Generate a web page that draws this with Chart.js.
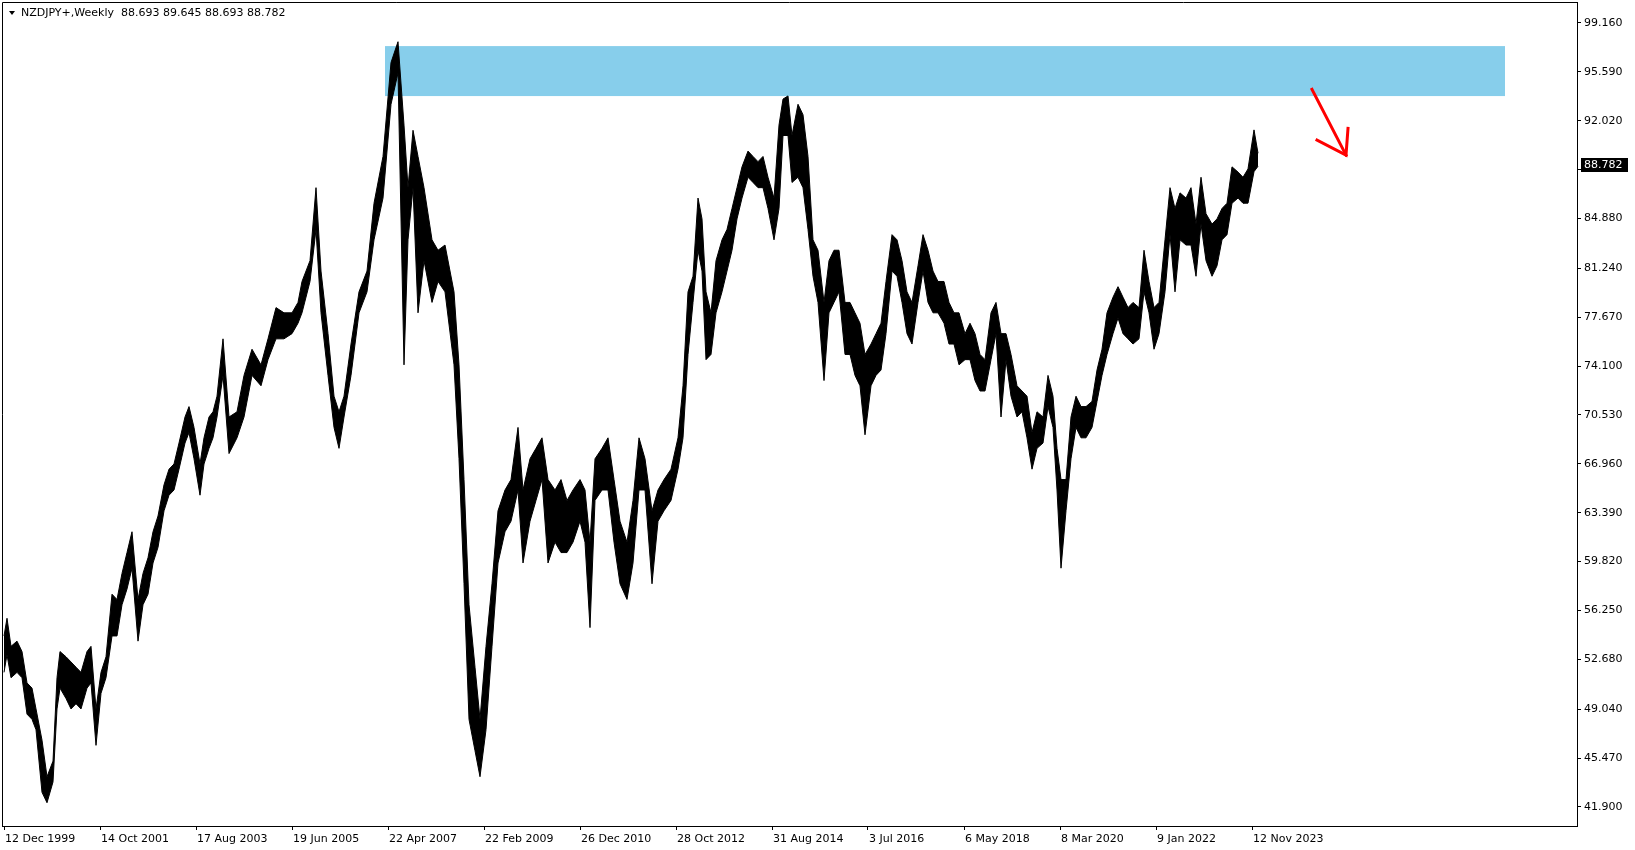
<!DOCTYPE html>
<html>
<head>
<meta charset="utf-8">
<title>NZDJPY+ Weekly</title>
<script src="https://cdn.jsdelivr.net/npm/chart.js@4.4.1/dist/chart.umd.min.js"></script>
<style>
  html, body { margin: 0; padding: 0; background: #fff; }
  #wrap { width: 1635px; height: 850px; }
</style>
</head>
<body>
<div id="wrap"><canvas id="chart" width="1635" height="850"></canvas></div>
<script>
const symbolTitle = 'NZDJPY+,Weekly';
const lastBar = [88.693, 89.645, 88.693, 88.782]; // open high low close

// sample points, weeks counted from 12 Dec 1999
const weekNo = [
  0, 3, 7, 13, 18, 23, 28, 32, 38, 43, 49, 53, 56, 62, 67, 72, 77, 83, 87, 92,
  97, 102, 108, 113, 118, 123, 128, 134, 139, 144, 149, 154, 160, 165, 170, 175, 181, 185, 190, 196,
  200, 205, 209, 213, 219, 225, 233, 240, 248, 257, 264, 272, 280, 288, 294, 298, 306, 312, 317, 324,
  330, 335, 340, 347, 355, 363, 370, 379, 387, 394, 400, 404, 409, 414, 420, 428, 434, 441, 450, 455,
  460, 465, 471, 476, 482, 488, 494, 501, 507, 514, 519, 526, 532, 538, 544, 551, 557, 563, 569, 576,
  581, 586, 591, 598, 604, 610, 616, 623, 629, 635, 641, 648, 654, 660, 667, 674, 679, 684, 689, 694,
  698, 702, 707, 712, 718, 723, 728, 733, 738, 744, 749, 754, 759, 764, 770, 775, 779, 784, 788, 794,
  799, 804, 809, 814, 820, 825, 830, 835, 841, 846, 851, 856, 861, 867, 872, 877, 882, 888, 893, 898,
  903, 908, 914, 919, 924, 929, 934, 940, 945, 950, 955, 961, 966, 971, 976, 981, 987, 992, 997, 1002,
  1007, 1013, 1018, 1023, 1028, 1033, 1039, 1044, 1049, 1053, 1057, 1062, 1067, 1072, 1077, 1082, 1088, 1093, 1098, 1103,
  1109, 1114, 1119, 1124, 1129, 1135, 1140, 1145, 1150, 1155, 1161, 1166, 1171, 1176, 1182, 1187, 1192, 1197, 1202, 1208,
  1213, 1218, 1223, 1228, 1234, 1239, 1244, 1250, 1254
];
const highs = [
  54.39, 55.68, 53.63, 54.01, 53.25, 50.96, 50.58, 49.06, 46.78, 44.11, 45.25, 51.34, 53.25, 52.87, 52.49, 52.11, 51.73, 53.25, 53.63, 49.06,
  51.73, 52.87, 57.44, 57.05, 58.96, 60.48, 62.00, 57.05, 58.96, 60.10, 62.00, 63.15, 65.43, 66.57, 66.95, 68.48, 70.38, 71.14, 69.62, 66.95,
  68.86, 70.38, 70.76, 71.90, 76.09, 70.38, 70.76, 73.42, 75.33, 74.19, 76.09, 78.37, 77.99, 77.99, 78.75, 80.28, 81.80, 87.13, 81.04, 76.47,
  71.90, 70.76, 71.90, 75.71, 79.52, 81.04, 85.99, 89.41, 96.27, 97.79, 91.70, 87.13, 91.32, 89.41, 87.13, 83.32, 82.56, 82.94, 79.52, 74.19,
  65.81, 56.67, 52.11, 48.30, 53.63, 58.20, 63.53, 65.05, 65.81, 69.62, 65.05, 67.33, 68.09, 68.86, 65.81, 65.05, 65.81, 64.29, 65.05, 65.81,
  65.05, 61.24, 67.33, 68.09, 68.86, 65.81, 62.77, 61.24, 64.29, 68.86, 67.33, 63.53, 65.05, 65.81, 66.57, 68.86, 72.66, 79.52, 80.66, 86.37,
  84.85, 79.52, 77.99, 81.80, 83.32, 84.08, 85.61, 87.13, 88.65, 89.80, 89.41, 89.03, 89.41, 87.89, 86.37, 91.70, 93.60, 93.83, 90.94, 93.22,
  92.46, 89.41, 83.32, 82.56, 78.75, 81.80, 82.56, 82.56, 78.75, 78.75, 77.99, 77.23, 74.95, 75.71, 76.47, 77.23, 80.28, 83.70, 83.32, 81.80,
  79.52, 78.75, 81.42, 83.70, 82.56, 81.04, 80.28, 80.28, 78.75, 77.99, 77.99, 76.47, 77.23, 76.47, 74.95, 74.57, 77.99, 78.75, 76.47, 76.47,
  74.95, 72.66, 72.28, 71.90, 69.24, 70.76, 70.38, 73.42, 71.90, 68.09, 65.81, 65.81, 70.38, 71.90, 71.14, 71.14, 71.52, 73.81, 75.33, 77.99,
  79.13, 79.90, 79.13, 78.37, 78.75, 78.37, 82.56, 80.28, 78.37, 78.75, 83.32, 87.13, 85.61, 86.75, 86.37, 87.13, 84.47, 87.89, 85.23, 84.47,
  84.85, 85.61, 85.99, 88.65, 88.27, 87.89, 88.50, 91.35, 89.645
];
const lows = [
  51.73, 53.02, 51.34, 51.73, 51.34, 48.68, 48.30, 47.54, 42.97, 42.21, 43.73, 49.06, 50.58, 49.82, 49.06, 49.44, 49.06, 50.58, 50.96, 46.40,
  50.20, 51.34, 54.39, 54.39, 56.67, 57.82, 59.34, 54.01, 56.67, 57.44, 59.72, 60.86, 63.53, 64.67, 65.05, 66.57, 68.48, 69.24, 67.33, 64.67,
  66.95, 68.09, 68.86, 70.38, 73.42, 67.71, 68.86, 70.38, 73.42, 72.66, 74.57, 76.09, 76.09, 76.47, 77.23, 77.99, 80.28, 84.08, 77.99, 73.42,
  69.62, 68.09, 70.38, 73.42, 77.99, 79.52, 83.32, 86.37, 93.22, 95.51, 74.19, 83.32, 87.13, 77.99, 81.80, 78.75, 80.28, 79.52, 74.19, 67.33,
  58.20, 48.30, 46.01, 44.11, 47.54, 53.63, 59.72, 62.00, 62.77, 65.05, 59.72, 62.77, 64.29, 65.81, 59.72, 61.24, 60.48, 60.48, 61.24, 62.77,
  61.24, 55.00, 64.29, 65.05, 65.05, 61.24, 58.20, 57.06, 59.72, 65.05, 65.05, 58.20, 62.77, 63.53, 64.29, 66.57, 68.86, 74.95, 78.75, 82.56,
  81.04, 74.57, 74.95, 77.99, 79.52, 81.04, 82.56, 84.85, 86.37, 87.89, 87.51, 87.13, 87.13, 85.61, 83.32, 85.61, 90.94, 90.94, 87.51, 87.89,
  87.13, 84.08, 80.66, 78.75, 73.04, 77.99, 78.75, 79.52, 74.95, 74.95, 73.42, 72.66, 69.08, 72.66, 73.42, 73.81, 76.47, 81.04, 80.66, 78.75,
  76.47, 75.71, 78.75, 81.04, 78.75, 77.99, 77.99, 77.23, 75.71, 75.71, 74.19, 74.57, 74.57, 73.04, 72.28, 72.28, 74.57, 76.47, 70.38, 74.57,
  71.90, 70.38, 70.76, 68.86, 66.57, 68.09, 68.48, 71.14, 69.62, 65.05, 59.34, 63.53, 67.33, 69.62, 68.86, 68.86, 69.62, 71.52, 73.42, 74.95,
  76.47, 77.61, 76.47, 76.09, 75.71, 76.09, 79.52, 77.99, 75.33, 76.47, 79.52, 83.70, 79.52, 83.32, 82.94, 82.94, 80.66, 84.47, 81.80, 80.66,
  81.42, 83.32, 83.70, 85.99, 86.37, 85.99, 86.00, 88.30, 88.693
];

const dateTickWeeks = [0, 96, 192, 288, 384, 480, 576, 672, 768, 864, 960, 1056, 1152, 1248];
const dateTickLabels = ['12 Dec 1999', '14 Oct 2001', '17 Aug 2003', '19 Jun 2005', '22 Apr 2007', '22 Feb 2009', '26 Dec 2010',
  '28 Oct 2012', '31 Aug 2014', '3 Jul 2016', '6 May 2018', '8 Mar 2020', '9 Jan 2022', '12 Nov 2023'];
const priceTicks = [99.160, 95.590, 92.020, 88.450, 84.880, 81.240, 77.670, 74.100, 70.530,
  66.960, 63.390, 59.820, 56.250, 52.680, 49.040, 45.470, 41.900];

// resistance zone and the red arrow drawn on the chart
const zoneWeeks = [381, 1501];
const zonePrices = [97.47, 93.82];
const arrowShaftWeeks = [1308, 1342];
const arrowShaftPrices = [94.31, 89.51];
const arrowHeadWeeks = [1313, 1342, 1344];
const arrowHeadPrices = [90.61, 89.51, 91.46];

const FONT = { family: 'DejaVu Sans', size: 11 };

const zonePlugin = {
  id: 'zone',
  beforeDatasetsDraw(chart) {
    const { ctx, scales: { x, y } } = chart;
    const x0 = x.getPixelForValue(zoneWeeks[0]), x1 = x.getPixelForValue(zoneWeeks[1]);
    const y0 = y.getPixelForValue(zonePrices[0]), y1 = y.getPixelForValue(zonePrices[1]);
    ctx.save();
    ctx.fillStyle = '#87CEEB';
    ctx.fillRect(x0, y0, x1 - x0, y1 - y0);
    ctx.restore();
  }
};

const overlayPlugin = {
  id: 'overlay',
  afterDraw(chart) {
    const { ctx, chartArea: a, scales: { y } } = chart;
    ctx.save();
    // frame top and left
    ctx.strokeStyle = '#000';
    ctx.lineWidth = 1;
    ctx.beginPath();
    ctx.moveTo(a.left + 0.5, a.bottom);
    ctx.lineTo(a.left + 0.5, a.top + 0.5);
    ctx.lineTo(a.right, a.top + 0.5);
    ctx.stroke();

    // header
    ctx.fillStyle = '#000';
    ctx.beginPath();
    ctx.moveTo(9, 11); ctx.lineTo(15, 11); ctx.lineTo(12, 15);
    ctx.closePath();
    ctx.fill();
    ctx.font = '11px "DejaVu Sans"';
    ctx.textBaseline = 'middle';
    ctx.textAlign = 'left';
    ctx.fillText(symbolTitle + '  ' + lastBar.map(v => v.toFixed(3)).join(' '), 21, 13);

    // last price tag
    const close = lastBar[3];
    const py = Math.round(y.getPixelForValue(close));
    ctx.fillStyle = '#000';
    ctx.fillRect(a.right + 4, py - 7, 47, 14);
    ctx.fillStyle = '#fff';
    ctx.fillText(close.toFixed(3), a.right + 7, py);
    ctx.restore();
  }
};

const pts = (xs, ys) => xs.map((w, i) => ({ x: w, y: ys[i] }));

new Chart(document.getElementById('chart'), {
  type: 'line',
  data: {
    datasets: [
      { label: 'arrow', data: pts(arrowShaftWeeks, arrowShaftPrices), borderColor: '#ff0000', borderWidth: 3,
        pointRadius: 0, fill: false, order: 0, borderCapStyle: 'square' },
      { label: 'arrow head', data: pts(arrowHeadWeeks, arrowHeadPrices), borderColor: '#ff0000', borderWidth: 3,
        pointRadius: 0, fill: false, order: 0, borderCapStyle: 'square' },
      { label: 'High', data: pts(weekNo, highs), borderColor: '#000', borderWidth: 1, pointRadius: 0,
        backgroundColor: '#000', fill: '+1', order: 1 },
      { label: 'Low', data: pts(weekNo, lows), borderColor: '#000', borderWidth: 1, pointRadius: 0,
        fill: false, order: 1 }
    ]
  },
  options: {
    responsive: false,
    animation: false,
    events: [],
    layout: { autoPadding: false, padding: { top: 2, left: 2, right: 0, bottom: 0 } },
    plugins: { legend: { display: false }, tooltip: { enabled: false } },
    scales: {
      x: {
        type: 'linear', min: -2, max: 1573,
        afterFit: s => { s.height = 24; s.paddingLeft = 0; s.paddingRight = 0; },
        afterBuildTicks: s => { s.ticks = dateTickWeeks.map(v => ({ value: v })); },
        grid: { drawOnChartArea: false, drawTicks: true, tickLength: 4, color: '#000' },
        border: { display: true, color: '#000' },
        ticks: {
          align: 'start', labelOffset: 1, padding: 3, maxRotation: 0, autoSkip: false,
          color: '#000', font: FONT,
          callback: (v, i) => dateTickLabels[i]
        }
      },
      y: {
        position: 'right', min: 40.51, max: 100.69,
        afterFit: s => { s.width = 58; s.paddingTop = 0; s.paddingBottom = 0; },
        afterBuildTicks: s => { s.ticks = priceTicks.map(v => ({ value: v })); },
        grid: { drawOnChartArea: false, drawTicks: true, tickLength: 4, color: '#000' },
        border: { display: true, color: '#000' },
        ticks: { padding: 3, crossAlign: 'near', color: '#000', font: FONT, callback: v => v.toFixed(3) }
      }
    }
  },
  plugins: [zonePlugin, overlayPlugin]
});
</script>
</body>
</html>
